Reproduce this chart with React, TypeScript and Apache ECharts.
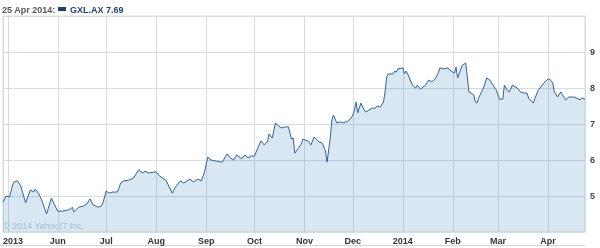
import React, { useEffect, useRef } from 'react';
import * as echarts from 'echarts';

const ticker = 'GXL.AX';
const asOfLabel = '25 Apr 2014:';
const copyright = '© 2014 Yahoo!7 Inc.';
const rangeStart = '2013-04-28';
const rangeEnd = '2014-04-24';
const firstYearLabel = '2013';
const monthNames = ['Jan', 'Feb', 'Mar', 'Apr', 'May', 'Jun', 'Jul', 'Aug', 'Sep', 'Oct', 'Nov', 'Dec'];
const yTickLabels = [5, 6, 7, 8, 9];

const dates = [
  '2013-04-28', '2013-04-30', '2013-05-02', '2013-05-04', '2013-05-05', '2013-05-07', '2013-05-09', '2013-05-12',
  '2013-05-15', '2013-05-17', '2013-05-18', '2013-05-20', '2013-05-22', '2013-05-25', '2013-05-28', '2013-05-30',
  '2013-06-01', '2013-06-04', '2013-06-07', '2013-06-09', '2013-06-10', '2013-06-11', '2013-06-14', '2013-06-17',
  '2013-06-19', '2013-06-21', '2013-06-23', '2013-06-26', '2013-06-28', '2013-06-29', '2013-07-01', '2013-07-03',
  '2013-07-05', '2013-07-08', '2013-07-10', '2013-07-12', '2013-07-15', '2013-07-18', '2013-07-21', '2013-07-24',
  '2013-07-25', '2013-07-27', '2013-08-01', '2013-08-03', '2013-08-07', '2013-08-11', '2013-08-13', '2013-08-16',
  '2013-08-18', '2013-08-22', '2013-08-24', '2013-08-27', '2013-08-29', '2013-08-31', '2013-09-02', '2013-09-04',
  '2013-09-07', '2013-09-11', '2013-09-14', '2013-09-16', '2013-09-18', '2013-09-20', '2013-09-23', '2013-09-25',
  '2013-09-27', '2013-09-29', '2013-10-01', '2013-10-03', '2013-10-05', '2013-10-07', '2013-10-09', '2013-10-10',
  '2013-10-12', '2013-10-14', '2013-10-16', '2013-10-18', '2013-10-20', '2013-10-22', '2013-10-24', '2013-10-25',
  '2013-10-26', '2013-10-30', '2013-10-31', '2013-11-03', '2013-11-05', '2013-11-07', '2013-11-10', '2013-11-12',
  '2013-11-14', '2013-11-15', '2013-11-17', '2013-11-18', '2013-11-19', '2013-11-21', '2013-11-23', '2013-11-25',
  '2013-11-28', '2013-11-30', '2013-12-01', '2013-12-02', '2013-12-03', '2013-12-04', '2013-12-06', '2013-12-08',
  '2013-12-09', '2013-12-11', '2013-12-13', '2013-12-15', '2013-12-16', '2013-12-18', '2013-12-20', '2013-12-21',
  '2013-12-22', '2013-12-23', '2013-12-26', '2013-12-27', '2013-12-28', '2013-12-29', '2014-01-01', '2014-01-02',
  '2014-01-03', '2014-01-04', '2014-01-07', '2014-01-09', '2014-01-10', '2014-01-12', '2014-01-15', '2014-01-17',
  '2014-01-19', '2014-01-21', '2014-01-23', '2014-01-24', '2014-01-26', '2014-01-29', '2014-01-30', '2014-02-01',
  '2014-02-02', '2014-02-03', '2014-02-04', '2014-02-06', '2014-02-07', '2014-02-09', '2014-02-10', '2014-02-11',
  '2014-02-14', '2014-02-15', '2014-02-16', '2014-02-17', '2014-02-20', '2014-02-22', '2014-02-24', '2014-02-26',
  '2014-02-28', '2014-03-02', '2014-03-04', '2014-03-05', '2014-03-07', '2014-03-08', '2014-03-10', '2014-03-13',
  '2014-03-15', '2014-03-17', '2014-03-19', '2014-03-20', '2014-03-23', '2014-03-24', '2014-03-26', '2014-03-29',
  '2014-04-01', '2014-04-02', '2014-04-04', '2014-04-05', '2014-04-07', '2014-04-09', '2014-04-10', '2014-04-12',
  '2014-04-14', '2014-04-17', '2014-04-19', '2014-04-21', '2014-04-22', '2014-04-24',
];

const prices = [
  4.83, 5.0, 4.97, 5.31, 5.39, 5.42, 5.28, 4.81,
  5.17, 5.11, 5.19, 5.08, 4.89, 4.5, 4.94, 4.75,
  4.58, 4.58, 4.61, 4.64, 4.69, 4.56, 4.69, 4.72,
  4.78, 4.92, 4.75, 4.69, 4.72, 4.81, 5.14, 5.08,
  5.11, 5.11, 5.36, 5.42, 5.44, 5.5, 5.72, 5.64,
  5.69, 5.64, 5.67, 5.56, 5.44, 5.08, 5.25, 5.42,
  5.36, 5.47, 5.39, 5.47, 5.42, 5.67, 6.08, 6.0,
  5.97, 5.94, 6.17, 6.06, 6.0, 6.14, 6.03, 6.14,
  6.06, 6.11, 6.11, 6.33, 6.53, 6.42, 6.5, 6.72,
  6.61, 7.03, 6.94, 6.89, 6.92, 6.92, 6.58, 6.61,
  6.19, 6.44, 6.58, 6.53, 6.42, 6.64, 6.5, 6.47,
  6.25, 5.94, 6.61, 7.11, 7.25, 7.03, 7.06, 7.03,
  7.08, 7.17, 7.25, 7.39, 7.61, 7.31, 7.58, 7.39,
  7.33, 7.39, 7.44, 7.44, 7.5, 7.47, 7.61, 7.89,
  8.31, 8.39, 8.39, 8.47, 8.44, 8.53, 8.56, 8.39,
  8.47, 8.39, 8.08, 8.0, 8.08, 7.97, 8.08, 8.22,
  8.17, 8.25, 8.42, 8.56, 8.53, 8.56, 8.5, 8.44,
  8.42, 8.58, 8.28, 8.53, 8.64, 8.69, 8.31, 7.89,
  7.81, 7.61, 7.58, 7.72, 8.0, 8.28, 8.22, 8.08,
  7.94, 7.69, 7.69, 8.08, 7.92, 7.89, 8.08, 8.0,
  7.89, 7.86, 7.86, 7.72, 7.58, 7.72, 7.94, 8.11,
  8.25, 8.25, 8.14, 7.89, 7.75, 7.89, 7.81, 7.67,
  7.75, 7.75, 7.72, 7.67, 7.72, 7.69,
];

const FONT = '"Liberation Sans", Arial, sans-serif';

export default function App() {
  const ref = useRef<HTMLDivElement>(null);

  useEffect(() => {
    if (!ref.current) return;
    const chart = echarts.init(ref.current, null, { renderer: 'svg' });
    const minT = new Date(rangeStart + 'T00:00:00').getTime();
    const maxT = new Date(rangeEnd + 'T00:00:00').getTime();
    const seriesData = dates.map((d, i) => [d, prices[i]]);
    const last = prices[prices.length - 1];

    chart.setOption({
      animation: false,
      grid: {
        left: 2,
        right: 15,
        top: 16,
        bottom: 16,
        show: true,
        borderColor: '#d6dce2',
        borderWidth: 1,
        backgroundColor: 'transparent',
      },
      xAxis: {
        type: 'time',
        min: minT,
        max: maxT,
        minInterval: 28 * 86400000,
        maxInterval: 31 * 86400000,
        axisLine: { show: false },
        axisTick: { show: false },
        splitLine: { show: true, lineStyle: { color: '#d6dce2', width: 1 } },
        axisLabel: {
          show: true,
          margin: 4,
          fontSize: 9,
          fontWeight: 'bold',
          fontFamily: FONT,
          color: '#333',
          showMinLabel: true,
          showMaxLabel: false,
          alignMinLabel: 'left',
          hideOverlap: false,
          formatter: (val: number) => {
            if (val - minT < 86400000 * 2) return firstYearLabel;
            const d = new Date(val);
            if (d.getDate() !== 1) return '';
            if (d.getMonth() === 0) return String(d.getFullYear());
            return monthNames[d.getMonth()];
          },
        },
      },
      yAxis: {
        type: 'value',
        position: 'right',
        min: 4,
        max: 10,
        interval: 1,
        axisLine: { show: false },
        axisTick: { show: false },
        splitLine: { show: true, lineStyle: { color: '#d6dce2', width: 1 } },
        axisLabel: {
          margin: 5,
          fontSize: 9,
          fontWeight: 'bold',
          fontFamily: FONT,
          color: '#444',
          formatter: (v: number) => (yTickLabels.indexOf(v) >= 0 ? String(v) : ''),
        },
      },
      series: [
        {
          type: 'line',
          data: seriesData,
          showSymbol: false,
          symbol: 'none',
          lineStyle: { color: '#30639a', width: 1 },
          areaStyle: { color: '#3f86c2', opacity: 0.2, origin: 'start' },
          clip: true,
        },
      ],
      graphic: [
        {
          type: 'text',
          left: 2,
          top: 5,
          style: { text: asOfLabel, fill: '#555', font: `bold 9px ${FONT}` },
        },
        {
          type: 'rect',
          shape: { x: 58, y: 7, width: 8, height: 4 },
          style: { fill: '#1f3e72' },
        },
        {
          type: 'text',
          left: 70,
          top: 5,
          style: { text: `${ticker} ${last.toFixed(2)}`, fill: '#1f3e72', font: `bold 9px ${FONT}` },
        },
        {
          type: 'text',
          left: 3,
          top: 221,
          style: { text: copyright, fill: '#bccbd8', font: `9px ${FONT}` },
        },
        {
          type: 'line',
          shape: { x1: 0, y1: 245.5, x2: 585, y2: 245.5 },
          style: { stroke: '#d0d4d8', lineWidth: 1 },
        },
      ],
    });

    return () => chart.dispose();
  }, []);

  return <div ref={ref} style={{ position: 'fixed', left: 0, top: 0, width: 600, height: 248 }} />;
}
